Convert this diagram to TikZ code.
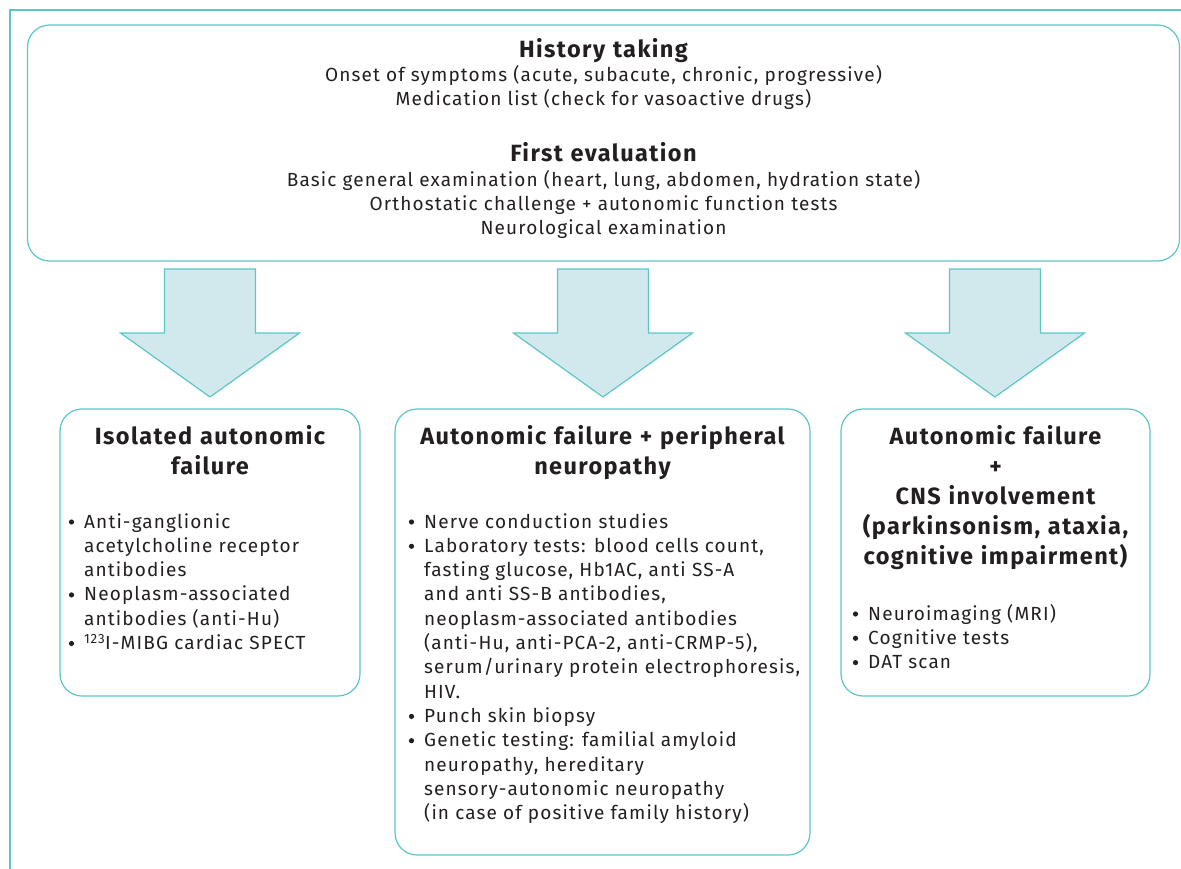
\documentclass[tikz,border=0pt]{standalone}
\usepackage{fontspec}
\setmainfont{Fira Sans}[LetterSpace=6]
\usepackage{array}
\definecolor{mainteal}{HTML}{5CC6C7}
\definecolor{arrowfill}{HTML}{D1E9EC}
\definecolor{ink}{HTML}{231F20}
\newcommand{\bodyfont}{\fontsize{19}{24.3}\selectfont}
\newcommand{\headfont}{\fontsize{23.5}{30.2}\selectfont\bfseries}
\newcommand{\bl}{\hspace*{17pt}}
\tikzset{
  box/.style={draw=mainteal, line width=1.2pt, rounded corners=22pt, inner sep=0pt},
  bigarrow/.style={draw=mainteal, line width=1.2pt, fill=arrowfill, line join=miter},
  head/.style={font=\headfont, text=ink, align=center, inner sep=0pt, anchor=base, text width=420pt},
  body/.style={font=\bodyfont, text=ink, align=center, inner sep=0pt, anchor=base},
  list/.style={font=\bodyfont, text=ink, inner sep=0pt, anchor=base west},
  dot/.style={fill=ink},
}
\begin{document}
\begin{tikzpicture}[x=1pt,y=-1pt]
\useasboundingbox (0,0) rectangle (1181,869);
% outer frame
\draw[mainteal, line width=2.6pt] (10,869) -- (10,10) -- (1181,10);
% top box
\node[box, minimum width=1152pt, minimum height=236pt] (top) at (603.5,143) {};
\node[head] (h1) at (603.5,58) {History taking};
\node[body] (t1) at (603.5,82) {Onset of symptoms (acute, subacute, chronic, progressive)};
\node[body] (t2) at (603.5,106) {Medication list (check for vasoactive drugs)};
\node[head] (h2) at (603.5,162) {First evaluation};
\node[body] (t3) at (603.5,187) {Basic general examination (heart, lung, abdomen, hydration state)};
\node[body] (t4) at (603.5,211) {Orthostatic challenge + autonomic function tests};
\node[body] (t5) at (603.5,235) {Neurological examination};
% arrows
\foreach \cx in {210,603,995}{
  \draw[bigarrow] (\cx-45.5,269) -- (\cx+45.5,269) -- (\cx+45.5,333) -- (\cx+89.5,333)
     -- (\cx,397) -- (\cx-89.5,333) -- (\cx-45.5,333) -- cycle;
}
% box 1
\node[box, minimum width=300pt, minimum height=287pt] (b1) at (210,552.5) {};
\node[head] (b1h) at (210,444) {Isolated autonomic\\failure};
\node[list] (b1l) at (67,528) {\begin{tabular}[t]{@{}l@{}}
\bl Anti-ganglionic\\
\bl acetylcholine receptor\\
\bl antibodies\\
\bl Neoplasm-associated\\
\bl antibodies (anti-Hu)\\
\bl \textsuperscript{123}I-MIBG cardiac SPECT
\end{tabular}};
\foreach \k in {0,3,5} \fill[dot] (71.5,528-6+\k*24.3) circle (2.6pt);
% box 2
\node[box, minimum width=415pt, minimum height=446pt] (b2) at (602.5,632) {};
\node[head] (b2h) at (602.5,444) {Autonomic failure + peripheral\\neuropathy};
\node[list] (b2l) at (407,528) {\begin{tabular}[t]{@{}l@{}}
\bl Nerve conduction studies\\
\bl Laboratory tests: blood cells count,\\
\bl fasting glucose, Hb1AC, anti SS-A\\
\bl and anti SS-B antibodies,\\
\bl neoplasm-associated antibodies\\
\bl (anti-Hu, anti-PCA-2, anti-CRMP-5),\\
\bl serum/urinary protein electrophoresis,\\
\bl HIV.\\
\bl Punch skin biopsy\\
\bl Genetic testing: familial amyloid\\
\bl neuropathy, hereditary\\
\bl sensory-autonomic neuropathy\\
\bl (in case of positive family history)
\end{tabular}};
\foreach \k in {0,1,8,9} \fill[dot] (411.5,528-6+\k*24.3) circle (2.6pt);
% box 3
\node[box, minimum width=309pt, minimum height=287pt] (b3) at (995.5,552.5) {};
\node[head] (b3h) at (995.5,444) {Autonomic failure\\+\\CNS involvement\\(parkinsonism, ataxia,\\cognitive impairment)};
\node[list] (b3l) at (851,620) {\begin{tabular}[t]{@{}l@{}}
\bl Neuroimaging (MRI)\\
\bl Cognitive tests\\
\bl DAT scan
\end{tabular}};
\foreach \k in {0,1,2} \fill[dot] (855.5,620-6+\k*24.3) circle (2.6pt);
\end{tikzpicture}
\end{document}
